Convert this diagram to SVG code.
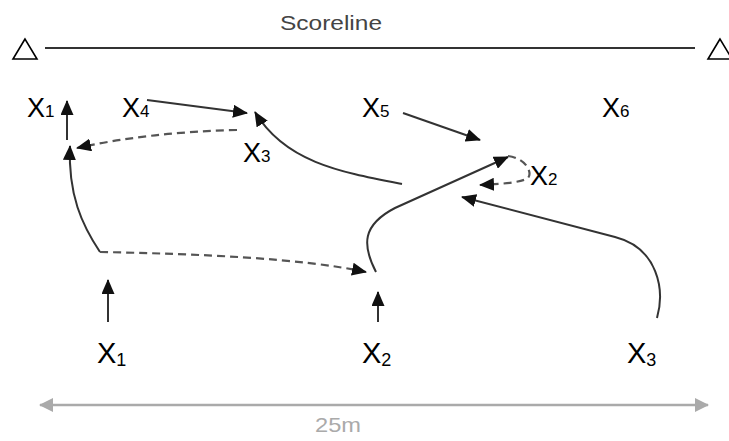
<svg xmlns="http://www.w3.org/2000/svg" width="729" height="441" viewBox="0 0 729 441">
<style>
.lbl{font-family:"Liberation Sans",Arial,sans-serif;font-size:27px;fill:#000}
.sub{font-size:17px}
.lblb{font-family:"Liberation Sans",Arial,sans-serif;font-size:29px;fill:#000}
.subb{font-size:18px}
.run{fill:none;stroke:#333;stroke-width:2}
.pass{fill:none;stroke:#555;stroke-width:2.2;stroke-dasharray:8 5}
</style>
<defs>
<marker id="ah" markerUnits="userSpaceOnUse" markerWidth="15" markerHeight="13" refX="14" refY="6.5" orient="auto">
<path d="M0,0 L15,6.5 L0,13 Z" fill="#111"/>
</marker>
<marker id="gh" markerUnits="userSpaceOnUse" markerWidth="14" markerHeight="14" refX="13" refY="7" orient="auto">
<path d="M0,0 L14,7 L0,14 Z" fill="#aaa"/>
</marker>
<marker id="gt" markerUnits="userSpaceOnUse" markerWidth="14" markerHeight="14" refX="1" refY="7" orient="auto">
<path d="M14,0 L0,7 L14,14 Z" fill="#aaa"/>
</marker>
</defs>

<g id="scoreline">
<text x="331" y="30" text-anchor="middle" font-family="Liberation Sans,Arial,sans-serif" font-size="21" fill="#444" textLength="102" lengthAdjust="spacingAndGlyphs">Scoreline</text>
<line x1="45" y1="48" x2="695" y2="48" stroke="#333" stroke-width="2"/>
<path d="M25,39 L13,59 L37,59 Z" fill="#fff" stroke="#000" stroke-width="1.6"/>
<path d="M720,39 L708,59 L732,59 Z" fill="#fff" stroke="#000" stroke-width="1.6"/>
</g>

<g id="x1-top"><text class="lbl" x="27" y="117">X<tspan class="sub">1</tspan></text></g>
<g id="x4-top"><text class="lbl" x="122" y="117">X<tspan class="sub">4</tspan></text></g>
<g id="x5-top"><text class="lbl" x="362" y="117">X<tspan class="sub">5</tspan></text></g>
<g id="x6-top"><text class="lbl" x="602" y="117">X<tspan class="sub">6</tspan></text></g>
<g id="x3-mid"><text class="lbl" x="243" y="162">X<tspan class="sub">3</tspan></text></g>
<g id="x2-mid"><text class="lbl" x="530" y="185">X<tspan class="sub">2</tspan></text></g>
<g id="x1-bot"><text class="lblb" x="97" y="363">X<tspan class="subb" dy="3">1</tspan></text></g>
<g id="x2-bot"><text class="lblb" x="362" y="363">X<tspan class="subb" dy="3">2</tspan></text></g>
<g id="x3-bot"><text class="lblb" x="627" y="363">X<tspan class="subb" dy="3">3</tspan></text></g>

<g id="connectors">
<line class="run" x1="67" y1="140" x2="67" y2="101" marker-end="url(#ah)"/>
<line class="run" x1="147" y1="100" x2="247" y2="113" marker-end="url(#ah)"/>
<path class="pass" d="M237,130 Q150,132 77,148" marker-end="url(#ah)"/>
<path class="run" d="M100,252 C82,225 68,195 70,146" marker-end="url(#ah)"/>
<path class="pass" d="M100,252 C200,254 300,258 366,272" marker-end="url(#ah)"/>
<line class="run" x1="108" y1="322" x2="108" y2="280" marker-end="url(#ah)"/>
<line class="run" x1="378" y1="322" x2="378" y2="292" marker-end="url(#ah)"/>
<path class="run" d="M376,272 C362,245 362,225 395,208 L508,157" marker-end="url(#ah)"/>
<path class="run" d="M402,184 C340,172 285,162 255,112" marker-end="url(#ah)"/>
<line class="run" x1="403" y1="113" x2="480" y2="140" marker-end="url(#ah)"/>
<path class="pass" d="M508,156 C525,158 533,172 528,178 C520,183 500,184 480,185" marker-end="url(#ah)"/>
<path class="run" d="M657,318 C665,290 658,248 615,237 L462,197" marker-end="url(#ah)"/>
<line x1="40" y1="405" x2="708" y2="405" stroke="#aaa" stroke-width="2.5" marker-start="url(#gt)" marker-end="url(#gh)"/>
</g>
<g id="distance">
<text x="338" y="432" text-anchor="middle" font-family="Liberation Sans,Arial,sans-serif" font-size="21" fill="#aaa" textLength="46" lengthAdjust="spacingAndGlyphs">25m</text>
</g>
</svg>
